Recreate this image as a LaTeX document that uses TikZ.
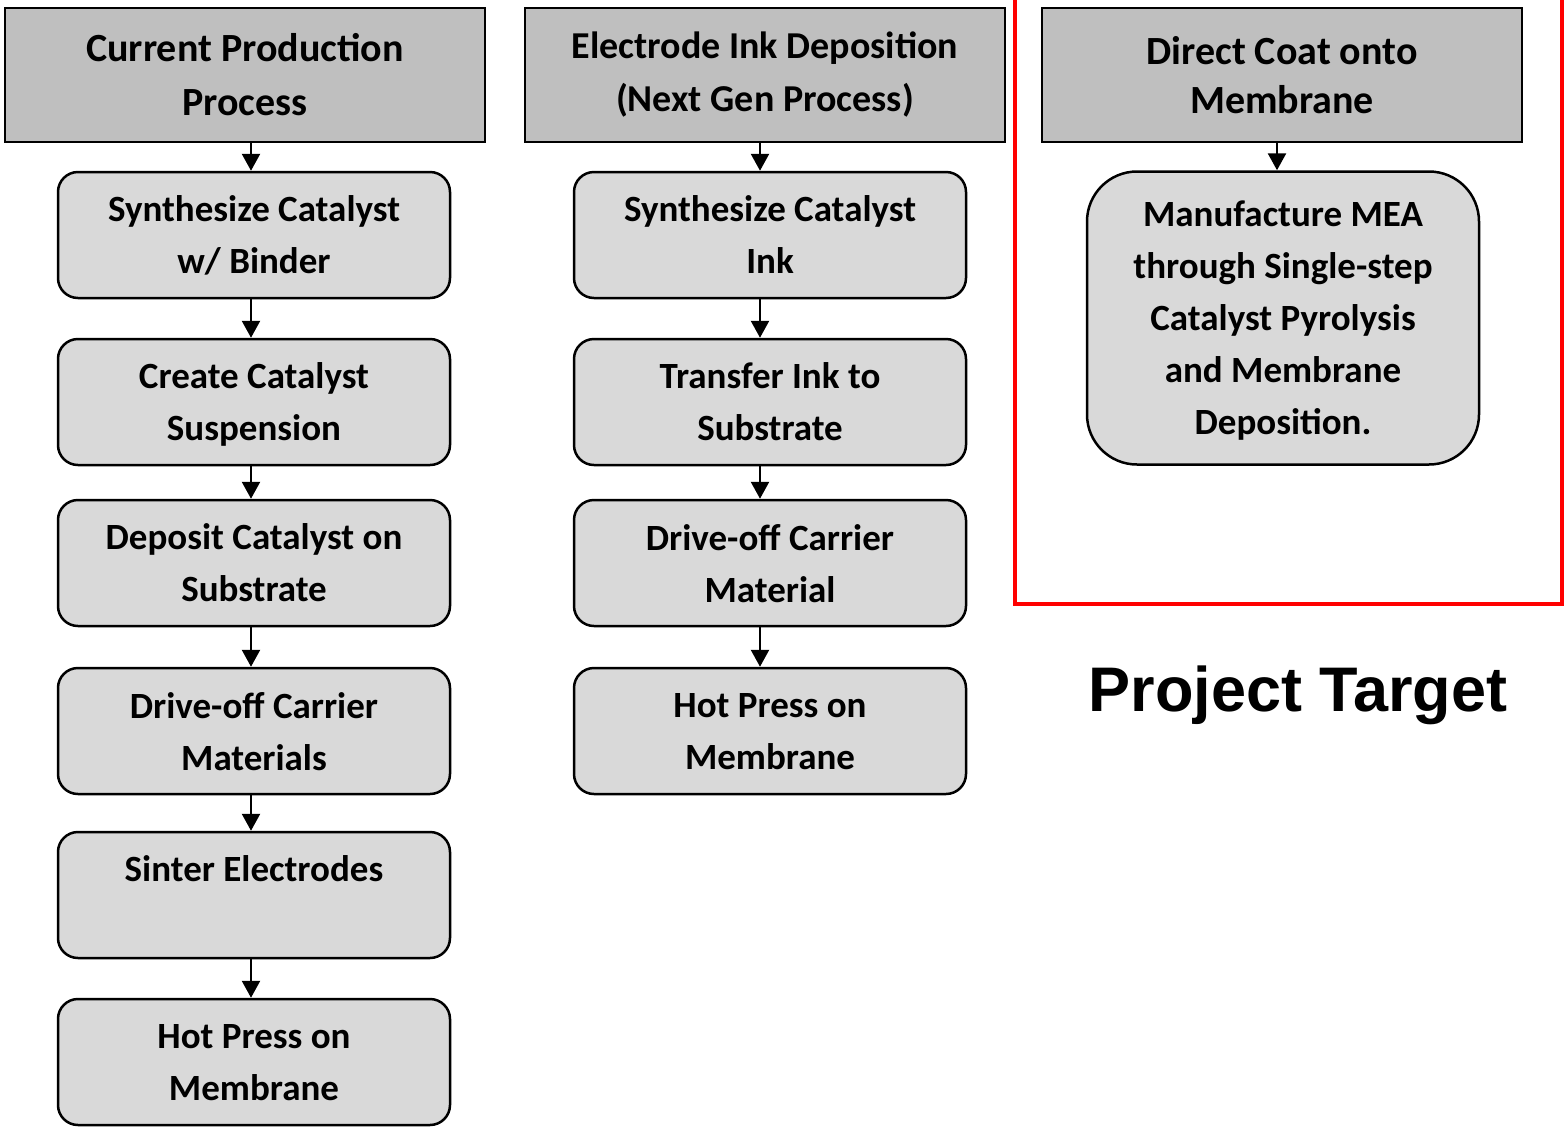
\documentclass[tikz,border=0pt]{standalone}
\usepackage{fontspec}
\setmainfont{Carlito}
\newfontfamily\arialfont{Liberation Sans}
\usetikzlibrary{arrows.meta}

\definecolor{headgray}{HTML}{BFBFBF}
\definecolor{boxgray}{HTML}{D9D9D9}
\definecolor{targetred}{HTML}{FF0000}

\tikzset{
  head/.style={draw, fill=headgray, line width=2.5pt, minimum width=480pt,
    minimum height=134pt, inner sep=0pt, align=center,
    font=\fontsize{40}{54}\selectfont\bfseries},
  stepbox/.style={draw, fill=boxgray, rounded corners=20pt, line width=2.5pt,
    minimum width=392pt, minimum height=126pt, inner sep=0pt, align=center,
    text depth=-8pt, font=\fontsize{37}{52}\selectfont\bfseries},
  flow/.style={-{Triangle[width=18pt,length=17pt]}, line width=2.5pt},
}

\begin{document}
\begin{tikzpicture}[x=1pt,y=1pt]
\useasboundingbox (0,0) rectangle (1564,-1128);
% current process
\node[head] (h1) at (245,-75) {Current Production\\Process};
\node[stepbox] (a1) at (254,-235) {Synthesize Catalyst\\w/ Binder};
\node[stepbox] (a2) at (254,-402) {Create Catalyst\\Suspension};
\node[stepbox] (a3) at (254,-563) {Deposit Catalyst on\\Substrate};
\node[stepbox] (a4) at (254,-731) {Drive-off Carrier\\Materials};
\node[stepbox] (a5) at (254,-895) {Sinter Electrodes\\~};
\node[stepbox] (a6) at (254,-1062) {Hot Press on\\Membrane};
% next gen process
\node[head, font=\fontsize{38}{53}\selectfont\bfseries] (h2) at (765,-75)
  {Electrode Ink Deposition\\(Next Gen Process)};
\node[stepbox] (b1) at (770,-235) {Synthesize Catalyst\\Ink};
\node[stepbox] (b2) at (770,-402) {Transfer Ink to\\Substrate};
\node[stepbox] (b3) at (770,-563) {Drive-off Carrier\\Material};
\node[stepbox] (b4) at (770,-731) {Hot Press on\\Membrane};
% direct coat
\node[head, font=\fontsize{40}{49}\selectfont\bfseries] (h3) at (1282,-75)
  {Direct Coat onto\\Membrane};
\node[stepbox, rounded corners=50pt, minimum height=293pt] (c1) at (1283,-318)
  {Manufacture MEA\\through Single-step\\Catalyst Pyrolysis\\and Membrane\\Deposition.};

\foreach \s/\t in {h1/a1,a1/a2,a2/a3,a3/a4,a4/a5,a5/a6}
  \draw[flow] ([xshift=-3pt]\t.north |- \s.south) -- ([xshift=-3pt]\t.north);
\foreach \s/\t in {h2/b1,b1/b2,b2/b3,b3/b4}
  \draw[flow] ([xshift=-10pt]\t.north |- \s.south) -- ([xshift=-10pt]\t.north);
\draw[flow] ([xshift=-6pt]c1.north |- h3.south) -- ([xshift=-6pt]c1.north);

% target frame
\draw[targetred, line width=4pt] (1015,10) -- (1015,-604) -- (1562,-604) -- (1562,10);
\node[font=\arialfont\bfseries\fontsize{63}{70}\selectfont] (target) at (1298,-695) {Project Target};
\end{tikzpicture}
\end{document}
